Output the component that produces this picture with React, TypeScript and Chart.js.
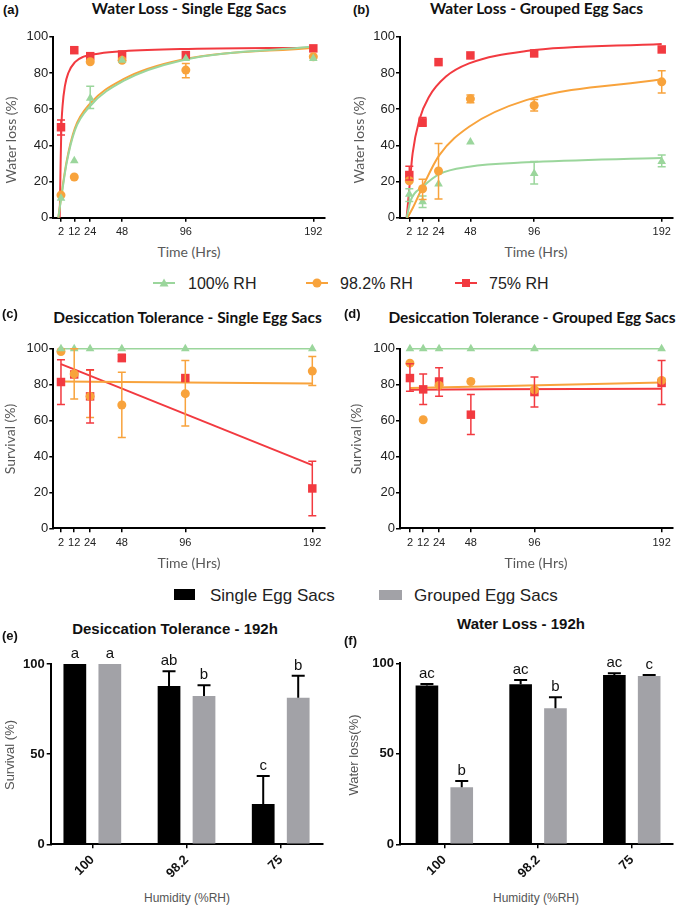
import React, { useEffect, useRef } from "react";
import { Chart, registerables } from "chart.js";
Chart.register(...registerables);

// ---------------- DATA ----------------
const TIMES = [2, 12, 24, 48, 96, 192];

// (a) Water loss - single egg sacs
const A_RH100 = [10.7, 31.5, 66, 87, 88, 88];
const A_RH100_ERR = [null, null, [60.4, 72.7], null, null, null];
const A_RH982 = [12.5, 22.5, 86.2, 87, 81.6, 89];
const A_RH982_ERR = [null, null, null, null, [77.3, 85.3], null];
const A_RH75 = [50, 92.6, 89.3, 90.2, 89.9, 93.6];
const A_RH75_ERR = [[45.7, 54], null, null, null, null, null];
const A_FIT100_X = [0, 2.3, 6.2, 12.5, 23.8, 49, 92, 192];
const A_FIT100_Y = [0, 11.6, 30, 48.4, 61.6, 75.6, 86.8, 94.6];
const A_FIT982_X = [0, 2.3, 6.2, 12.5, 23.8, 49, 92, 192];
const A_FIT982_Y = [0, 12.5, 31, 49.5, 63, 76.6, 87.2, 94];
const A_FIT75_X = [1.0, 1.6, 2.2, 3.2, 5, 7.5, 12.5, 19, 31, 49, 92, 192];
const A_FIT75_Y = [0, 25, 48, 62, 73, 80, 86, 89, 90.8, 92, 93.2, 94];

// (b) Water loss - grouped egg sacs
const B_RH100 = [12.9, 8.8, 18.6, 41.8, 24.5, 31];
const B_RH100_ERR = [[9, 16], [5.7, 12], null, null, [18.6, 31], [28.2, 34.6]];
const B_RH982 = [20.4, 16, 25.8, 65.7, 62, 75.1];
const B_RH982_ERR = [null, [10.1, 21.2], [10.3, 41], [63.5, 67.8], [59, 65.4], [69, 81.2]];
const B_RH75 = [23.6, 52.7, 86, 89.7, 90.8, 93];
const B_RH75_ERR = [[20.8, 28.5], [50.6, 55.4], null, null, null, null];
const B_FIT100_X = [0, 3.2, 12, 24.6, 47, 90, 192];
const B_FIT100_Y = [0, 9.8, 17, 24.1, 28.2, 30.6, 33];
const B_FIT982_X = [0.5, 4.5, 12, 24.6, 47, 90, 192];
const B_FIT982_Y = [0, 5.2, 17, 34.6, 50.3, 65, 76.5];
const B_FIT75_X = [0, 2, 4.5, 9.5, 17, 29.6, 47, 90, 192];
const B_FIT75_Y = [0, 16, 35.5, 54, 67, 78, 85.3, 92.1, 96];

// (c) Survival - single egg sacs
const C_RH100 = [100, 100, 100, 100, 100, 100];
const C_RH982 = [98.5, 86, 73.5, 68.7, 75, 87.6];
const C_RH982_ERR = [null, [72, 100], [61.7, 88], [50.6, 87], [57, 93.5], [79.6, 95.7]];
const C_RH75 = [81.5, 85.7, 73.5, 94.8, 83.7, 22.2];
const C_RH75_ERR = [[69, 93.9], null, [58.7, 88.3], [93, 97], null, [7, 37.4]];
const C_LINE_X = [2, 192];
const C_LINE100_Y = [100, 100];
const C_LINE982_Y = [81.8, 80.6];
const C_LINE75_Y = [91.5, 35.2];

// (d) Survival - grouped egg sacs
const D_RH100 = [100, 100, 100, 100, 100, 100];
const D_RH982 = [92, 60.5, 79.6, 81.8, 77.2, 82.4];
const D_RH75 = [83.7, 77.4, 81.8, 63.3, 75.9, 81];
const D_RH75_ERR = [[76.3, 91.7], [69, 86], [73.5, 89.4], [52.2, 74.6], [67.6, 84.3], [69, 93.5]];
const D_LINE_X = [2, 192];
const D_LINE100_Y = [100, 100];
const D_LINE982_Y = [78.2, 81.2];
const D_LINE75_Y = [77.2, 77.8];

// (e), (f) 192h bars
const HUM_X = [1, 2, 3];
const HUM_LABELS = ["100", "98.2", "75"];
const E_SINGLE = [100, 87.8, 22.4];
const E_SINGLE_UP = [100, 96, 37.9];
const E_SINGLE_LETTERS = ["a", "ab", "c"];
const E_GROUPED = [100, 82.3, 81.3];
const E_GROUPED_UP = [100, 88.2, 93.5];
const E_GROUPED_LETTERS = ["a", "b", "b"];
const F_SINGLE = [87.7, 88.4, 93.6];
const F_SINGLE_UP = [88.6, 90.8, 94.5];
const F_SINGLE_LETTERS = ["ac", "ac", "ac"];
const F_GROUPED = [31.5, 75.1, 93];
const F_GROUPED_UP = [35, 81.2, 93.5];
const F_GROUPED_LETTERS = ["b", "b", "c"];

// ---------------- STYLE ----------------
const GREEN = "#9bd69c";
const ORANGE = "#f8a33c";
const RED = "#f23a40";
const BLACK = "#000000";
const GREY = "#a2a2a7";
const ARIAL = "'Liberation Sans', Arial, sans-serif";
const CALI = "Lato, 'Open Sans', sans-serif";

const errorPlugin = {
  id: "errbars",
  afterDatasetsDraw(chart: any) {
    const ctx = chart.ctx;
    const ys = chart.scales.y;
    chart.data.datasets.forEach((ds: any, i: number) => {
      const meta = chart.getDatasetMeta(i);
      if (ds.errs) {
        ctx.save();
        ctx.strokeStyle = ds.errColor;
        ctx.lineWidth = ds.errWidth || 1.5;
        ds.errs.forEach((e: any, j: number) => {
          if (!e || e[1] <= e[0]) return;
          const el = meta.data[j];
          const x = el.x;
          const lo = ys.getPixelForValue(e[0]);
          const hi = ys.getPixelForValue(e[1]);
          const c = (ds.capWidth || 8) / 2;
          ctx.beginPath();
          ctx.moveTo(x, lo);
          ctx.lineTo(x, hi);
          ctx.moveTo(x - c, hi);
          ctx.lineTo(x + c, hi);
          if (ds.capLow !== false) {
            ctx.moveTo(x - c, lo);
            ctx.lineTo(x + c, lo);
          }
          ctx.stroke();
        });
        ctx.restore();
      }
      if (ds.letters) {
        ctx.save();
        ctx.fillStyle = "#111";
        ctx.font = `15px ${ARIAL}`;
        ctx.textAlign = "center";
        ctx.textBaseline = "alphabetic";
        ds.letters.forEach((t: string, j: number) => {
          const el = meta.data[j];
          const top = ds.errs && ds.errs[j] ? ds.errs[j][1] : ds.data[j].y;
          ctx.fillText(t, el.x, ys.getPixelForValue(top) - 6);
        });
        ctx.restore();
      }
    });
  },
};

type G = { padTop: number; padRight: number; yW: number; xH: number; xMin: number; xMax: number };

function axisCommon() {
  return {
    grid: { display: true, drawOnChartArea: false, drawTicks: true, tickLength: 4, color: "#000", lineWidth: 1.5, offset: false },
    border: { display: true, color: "#000", width: 2 },
  };
}

function timeConfig(series: any[], g: G): any {
  const datasets: any[] = [];
  series.forEach((s) => {
    datasets.push({
      data: s.fitX.map((x: number, i: number) => ({ x, y: s.fitY[i] })),
      showLine: true,
      borderColor: s.color,
      borderWidth: s.lw || 2,
      pointRadius: 0,
      cubicInterpolationMode: "monotone",
      fill: false,
      clip: false,
      order: 2,
    });
  });
  series.forEach((s) => {
    datasets.push({
      data: TIMES.map((x, i) => ({ x, y: s.values[i] })),
      showLine: false,
      pointStyle: s.style,
      pointRadius: s.radius,
      backgroundColor: s.color,
      borderColor: s.color,
      borderWidth: 0,
      clip: false,
      errs: s.errs,
      errColor: s.color,
      capWidth: 8,
      errWidth: 1.5,
      order: 1,
    });
  });
  const c = axisCommon();
  return {
    type: "scatter",
    data: { datasets },
    plugins: [errorPlugin],
    options: {
      animation: false,
      responsive: false,
      devicePixelRatio: 1,
      layout: { padding: { left: 0, top: g.padTop, right: g.padRight, bottom: 0 } },
      plugins: { legend: { display: false }, tooltip: { enabled: false } },
      scales: {
        x: {
          type: "linear",
          min: g.xMin,
          max: g.xMax,
          afterBuildTicks: (s: any) => {
            s.ticks = TIMES.map((v) => ({ value: v }));
          },
          afterFit: (s: any) => {
            s.height = g.xH;
          },
          ticks: { font: { family: ARIAL, size: 11 }, color: "#222", padding: 4, maxRotation: 0, autoSkip: false },
          ...c,
        },
        y: {
          type: "linear",
          min: 0,
          max: 100,
          afterFit: (s: any) => {
            s.width = g.yW;
          },
          ticks: { stepSize: 20, font: { family: ARIAL, size: 13 }, color: "#222", padding: 1 },
          ...c,
        },
      },
    },
  };
}

function barConfig(single: number[], singleUp: number[], singleL: string[], grouped: number[], groupedUp: number[], groupedL: string[], g: G): any {
  const mk = (vals: number[], up: number[], letters: string[], color: string) => ({
    data: HUM_X.map((x, i) => ({ x, y: vals[i] })),
    backgroundColor: color,
    borderWidth: 0,
    categoryPercentage: 0.743,
    barPercentage: 0.65,
    errs: vals.map((v, i) => [v, up[i]]),
    errColor: BLACK,
    capLow: false,
    capWidth: 13,
    errWidth: 2,
    letters,
  });
  const c = axisCommon();
  return {
    type: "bar",
    data: { datasets: [mk(single, singleUp, singleL, BLACK), mk(grouped, groupedUp, groupedL, GREY)] },
    plugins: [errorPlugin],
    options: {
      animation: false,
      responsive: false,
      devicePixelRatio: 1,
      layout: { padding: { left: 0, top: g.padTop, right: g.padRight, bottom: 0 } },
      plugins: { legend: { display: false }, tooltip: { enabled: false } },
      scales: {
        x: {
          type: "linear",
          offset: false,
          min: g.xMin,
          max: g.xMax,
          afterBuildTicks: (s: any) => {
            s.ticks = HUM_X.map((v) => ({ value: v }));
          },
          afterFit: (s: any) => {
            s.height = g.xH;
          },
          ticks: {
            font: { family: ARIAL, size: 13, weight: "bold" },
            color: "#111",
            padding: 4,
            minRotation: 45,
            maxRotation: 45,
            autoSkip: false,
            callback: (v: number) => HUM_LABELS[HUM_X.indexOf(v)],
          },
          ...c,
        },
        y: {
          type: "linear",
          min: 0,
          max: 100,
          afterFit: (s: any) => {
            s.width = g.yW;
          },
          ticks: { stepSize: 50, font: { family: ARIAL, size: 13, weight: "bold" }, color: "#111", padding: 2 },
          ...c,
        },
      },
    },
  };
}

function ChartBox(props: { left: number; top: number; width: number; height: number; make: () => any }) {
  const ref = useRef<HTMLCanvasElement>(null);
  useEffect(() => {
    const chart = new Chart(ref.current as HTMLCanvasElement, props.make());
    return () => chart.destroy();
  }, []);
  return (
    <canvas
      ref={ref}
      width={props.width}
      height={props.height}
      style={{ position: "absolute", left: props.left, top: props.top, width: props.width, height: props.height }}
    />
  );
}

function Txt(props: { x: number; y: number; children: any; style?: any; rotate?: boolean; anchor?: "left" | "center" }) {
  const center = props.anchor !== "left";
  return (
    <div
      style={{
        position: "absolute",
        left: props.x,
        top: props.y,
        whiteSpace: "nowrap",
        lineHeight: 1,
        transform: `translate(${center ? "-50%" : "0"}, -50%)${props.rotate ? " rotate(-90deg)" : ""}`,
        ...props.style,
      }}
    >
      {props.children}
    </div>
  );
}

const titleLine = { fontFamily: CALI, fontWeight: 700, fontSize: 15.5, color: "#111" };
const titleBar = { fontFamily: ARIAL, fontWeight: 700, fontSize: 15, color: "#111" };
const letterStyle = { fontFamily: ARIAL, fontWeight: 700, fontSize: 13, color: "#111" };
const axisTitleLine = { fontFamily: CALI, fontSize: 14, color: "#595959" };
const axisTitleBar = { fontFamily: ARIAL, fontSize: 13, color: "#555" };
const legendText = { fontFamily: ARIAL, fontSize: 16, color: "#222" };

function LineGlyph(props: { x: number; y: number; color: string; shape: string }) {
  const { color, shape } = props;
  return (
    <svg style={{ position: "absolute", left: props.x - 12, top: props.y - 7 }} width={24} height={14}>
      <line x1={1} y1={7} x2={23} y2={7} stroke={color} strokeWidth={2} />
      {shape === "triangle" && <polygon points="12,2.5 16.5,10.5 7.5,10.5" fill={color} />}
      {shape === "circle" && <circle cx={12} cy={7} r={4.5} fill={color} />}
      {shape === "rect" && <rect x={8} y={3} width={8} height={8} fill={color} />}
    </svg>
  );
}

export default function App() {
  const gA: G = { padTop: 8.7, padRight: 10, yW: 53.3, xH: 25.3, xMin: -3.8, xMax: 200.8 };
  const gB: G = { padTop: 8.7, padRight: 7, yW: 55, xH: 25.3, xMin: -5, xMax: 200.5 };
  const gC: G = { padTop: 8.3, padRight: 10, yW: 53.3, xH: 26.7, xMin: -3.8, xMax: 201.6 };
  const gD: G = { padTop: 8.3, padRight: 7, yW: 55, xH: 26.7, xMin: -5.5, xMax: 200.6 };
  const gE: G = { padTop: 24, padRight: 12, yW: 50.7, xH: 40.7, xMin: 0.558, xMax: 3.449 };
  const gF: G = { padTop: 23.3, padRight: 7, yW: 55, xH: 40.7, xMin: 0.527, xMax: 3.44 };

  return (
    <div style={{ position: "fixed", left: 0, top: 0, width: 685, height: 906, background: "#fff", overflow: "hidden" }}>
      <ChartBox
        left={0}
        top={28}
        width={335}
        height={215}
        make={() =>
          timeConfig(
            [
              { values: A_RH100, errs: A_RH100_ERR, color: GREEN, style: "triangle", radius: 5, fitX: A_FIT100_X, fitY: A_FIT100_Y },
              { values: A_RH982, errs: A_RH982_ERR, color: ORANGE, style: "circle", radius: 4.5, fitX: A_FIT982_X, fitY: A_FIT982_Y },
              { values: A_RH75, errs: A_RH75_ERR, color: RED, style: "rect", radius: 6, fitX: A_FIT75_X, fitY: A_FIT75_Y },
            ],
            gA
          )
        }
      />
      <ChartBox
        left={345}
        top={28}
        width={335}
        height={215}
        make={() =>
          timeConfig(
            [
              { values: B_RH100, errs: B_RH100_ERR, color: GREEN, style: "triangle", radius: 5, fitX: B_FIT100_X, fitY: B_FIT100_Y },
              { values: B_RH982, errs: B_RH982_ERR, color: ORANGE, style: "circle", radius: 4.5, fitX: B_FIT982_X, fitY: B_FIT982_Y },
              { values: B_RH75, errs: B_RH75_ERR, color: RED, style: "rect", radius: 6, fitX: B_FIT75_X, fitY: B_FIT75_Y },
            ],
            gB
          )
        }
      />
      <ChartBox
        left={0}
        top={340}
        width={335}
        height={215}
        make={() =>
          timeConfig(
            [
              { values: C_RH100, errs: null, color: GREEN, style: "triangle", radius: 5, fitX: C_LINE_X, fitY: C_LINE100_Y, lw: 1.5 },
              { values: C_RH982, errs: C_RH982_ERR, color: ORANGE, style: "circle", radius: 4.5, fitX: C_LINE_X, fitY: C_LINE982_Y },
              { values: C_RH75, errs: C_RH75_ERR, color: RED, style: "rect", radius: 6, fitX: C_LINE_X, fitY: C_LINE75_Y },
            ],
            gC
          )
        }
      />
      <ChartBox
        left={345}
        top={340}
        width={335}
        height={215}
        make={() =>
          timeConfig(
            [
              { values: D_RH100, errs: null, color: GREEN, style: "triangle", radius: 5, fitX: D_LINE_X, fitY: D_LINE100_Y, lw: 1.5 },
              { values: D_RH982, errs: null, color: ORANGE, style: "circle", radius: 4.5, fitX: D_LINE_X, fitY: D_LINE982_Y },
              { values: D_RH75, errs: D_RH75_ERR, color: RED, style: "rect", radius: 6, fitX: D_LINE_X, fitY: D_LINE75_Y },
            ],
            gD
          )
        }
      />
      <ChartBox
        left={0}
        top={640}
        width={335}
        height={245}
        make={() => barConfig(E_SINGLE, E_SINGLE_UP, E_SINGLE_LETTERS, E_GROUPED, E_GROUPED_UP, E_GROUPED_LETTERS, gE)}
      />
      <ChartBox
        left={345}
        top={640}
        width={335}
        height={245}
        make={() => barConfig(F_SINGLE, F_SINGLE_UP, F_SINGLE_LETTERS, F_GROUPED, F_GROUPED_UP, F_GROUPED_LETTERS, gF)}
      />

      {/* panel letters & titles */}
      <Txt x={3} y={9} anchor="left" style={letterStyle}>(a)</Txt>
      <Txt x={189} y={9} style={titleLine}>Water Loss - Single Egg Sacs</Txt>
      <Txt x={353} y={9} anchor="left" style={letterStyle}>(b)</Txt>
      <Txt x={536.5} y={9} style={titleLine}>Water Loss - Grouped Egg Sacs</Txt>
      <Txt x={11} y={140} rotate style={axisTitleLine}>Water loss (%)</Txt>
      <Txt x={359} y={140} rotate style={axisTitleLine}>Water loss (%)</Txt>
      <Txt x={189} y={252} style={axisTitleLine}>Time (Hrs)</Txt>
      <Txt x={536} y={252} style={axisTitleLine}>Time (Hrs)</Txt>

      {/* legend 1 */}
      <LineGlyph x={164} y={283} color={GREEN} shape="triangle" />
      <Txt x={188} y={284} anchor="left" style={legendText}>100% RH</Txt>
      <LineGlyph x={317} y={283} color={ORANGE} shape="circle" />
      <Txt x={340} y={284} anchor="left" style={legendText}>98.2% RH</Txt>
      <LineGlyph x={465.5} y={283} color={RED} shape="rect" />
      <Txt x={489} y={284} anchor="left" style={legendText}>75% RH</Txt>

      <Txt x={2} y={313} anchor="left" style={letterStyle}>(c)</Txt>
      <Txt x={187.5} y={318} style={titleLine}>Desiccation Tolerance - Single Egg Sacs</Txt>
      <Txt x={344} y={313} anchor="left" style={letterStyle}>(d)</Txt>
      <Txt x={532} y={318} style={titleLine}>Desiccation Tolerance - Grouped Egg Sacs</Txt>
      <Txt x={9.5} y={439} rotate style={axisTitleLine}>Survival (%)</Txt>
      <Txt x={356} y={439} rotate style={axisTitleLine}>Survival (%)</Txt>
      <Txt x={189} y={563} style={axisTitleLine}>Time (Hrs)</Txt>
      <Txt x={536} y={563} style={axisTitleLine}>Time (Hrs)</Txt>

      {/* legend 2 */}
      <div style={{ position: "absolute", left: 174, top: 589, width: 21, height: 11, background: BLACK }} />
      <Txt x={210} y={595} anchor="left" style={{ ...legendText, fontSize: 17 }}>Single Egg Sacs</Txt>
      <div style={{ position: "absolute", left: 379, top: 590, width: 23, height: 10, background: GREY }} />
      <Txt x={414} y={595} anchor="left" style={{ ...legendText, fontSize: 17 }}>Grouped Egg Sacs</Txt>

      <Txt x={2} y={635} anchor="left" style={letterStyle}>(e)</Txt>
      <Txt x={175} y={627.5} style={titleBar}>Desiccation Tolerance - 192h</Txt>
      <Txt x={344} y={640} anchor="left" style={letterStyle}>(f)</Txt>
      <Txt x={521} y={623} style={titleBar}>Water Loss - 192h</Txt>
      <Txt x={9} y={755} rotate style={axisTitleBar}>Survival (%)</Txt>
      <Txt x={352.5} y={755} rotate style={axisTitleBar}>Water loss(%)</Txt>
      <Txt x={187} y={898} style={{ ...axisTitleBar, fontSize: 12 }}>Humidity (%RH)</Txt>
      <Txt x={536} y={898} style={{ ...axisTitleBar, fontSize: 12 }}>Humidity (%RH)</Txt>
    </div>
  );
}
